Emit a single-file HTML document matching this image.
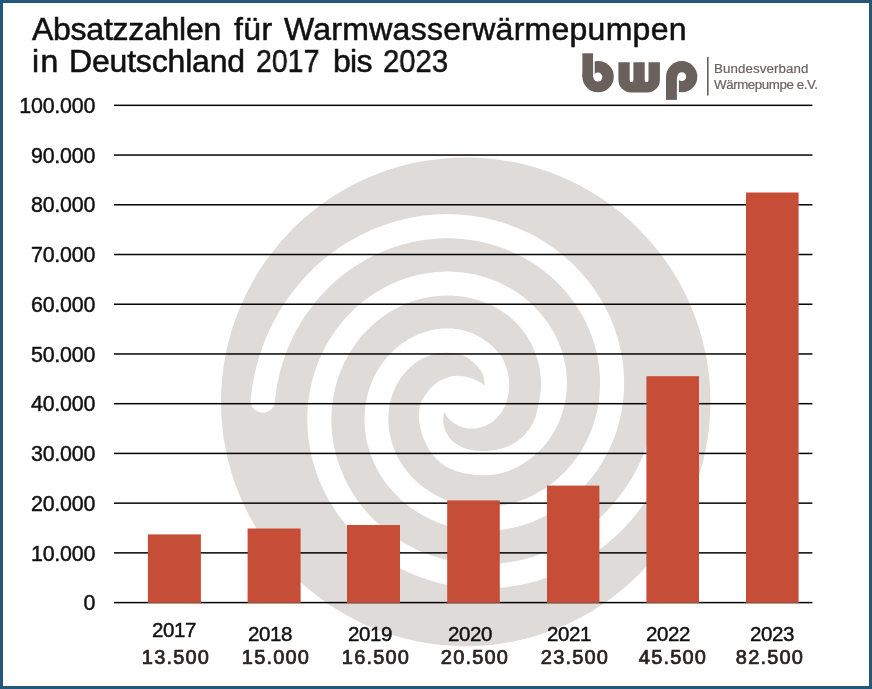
<!DOCTYPE html>
<html><head><meta charset="utf-8"><title>Absatzzahlen</title>
<style>
html,body{margin:0;padding:0;}
body{width:872px;height:689px;position:relative;overflow:hidden;background:#fff;font-family:"Liberation Sans",sans-serif;color:#111;}
.frame{position:absolute;left:0;top:0;width:866px;height:682.6px;border:3px solid #23587a;border-bottom-width:3.4px;z-index:5;}
.t{position:absolute;white-space:nowrap;line-height:1;will-change:transform;}
.title{font-size:32px;-webkit-text-stroke:0.55px #111;}
.yl{font-size:21.4px;text-align:right;width:95.2px;left:0;letter-spacing:-0.2px;-webkit-text-stroke:0.45px #111;}
.xl{font-size:20.5px;text-align:center;width:100px;letter-spacing:-0.4px;-webkit-text-stroke:0.45px #111;}
.xv{font-size:20px;text-align:center;width:100px;letter-spacing:1.2px;color:#2a2321;-webkit-text-stroke:0.7px #2a2321;}
.lg{font-size:13.3px;color:#6a625f;left:714.1px;-webkit-text-stroke:0.2px #6a625f;}
</style></head><body>
<svg width="872" height="689" viewBox="0 0 872 689" style="position:absolute;left:0;top:0">
<ellipse cx="465.7" cy="401.8" rx="244.7" ry="244.4" fill="#dedbd8"/>
<path d="M250.6 400.5 L250.9 397.6 L251.4 393.5 L251.9 389.3 L252.5 385.6 L253.1 381.9 L253.8 378.2 L254.5 374.6 L255.4 370.9 L256.2 367.3 L257.2 363.7 L258.2 360.1 L259.3 356.6 L260.4 353.1 L261.6 349.6 L262.8 346.1 L264.1 342.6 L265.5 339.2 L266.9 335.8 L268.4 332.5 L269.9 329.1 L271.5 325.8 L273.2 322.6 L274.9 319.4 L276.6 316.2 L278.4 313.0 L280.3 309.9 L282.2 306.8 L284.2 303.8 L286.2 300.8 L288.2 297.8 L290.3 294.9 L292.5 292.0 L294.7 289.2 L297.0 286.4 L299.3 283.6 L301.6 280.9 L304.0 278.3 L306.4 275.7 L308.9 273.1 L311.4 270.6 L313.9 268.1 L316.5 265.7 L319.2 263.3 L321.8 261.0 L324.5 258.8 L327.3 256.6 L330.0 254.4 L332.8 252.3 L335.7 250.2 L338.5 248.2 L341.4 246.3 L344.4 244.4 L347.3 242.5 L350.3 240.8 L353.3 239.0 L356.3 237.4 L359.4 235.7 L362.5 234.2 L365.6 232.7 L368.7 231.2 L371.8 229.8 L375.0 228.5 L378.2 227.2 L381.4 226.0 L384.6 224.9 L387.8 223.8 L391.1 222.7 L394.3 221.8 L397.6 220.8 L400.8 220.0 L404.1 219.2 L407.4 218.4 L410.7 217.8 L414.0 217.1 L417.3 216.6 L420.6 216.1 L424.0 215.6 L427.3 215.2 L430.6 214.9 L433.9 214.6 L437.2 214.4 L440.5 214.3 L443.8 214.2 L447.2 214.1 L450.5 214.2 L453.7 214.3 L457.0 214.4 L460.3 214.6 L463.6 214.9 L466.8 215.2 L470.1 215.5 L473.3 216.0 L476.5 216.4 L479.7 217.0 L482.9 217.6 L486.1 218.2 L489.3 218.9 L492.4 219.7 L495.5 220.5 L498.6 221.4 L501.7 222.3 L504.8 223.3 L507.8 224.3 L510.8 225.4 L513.8 226.5 L516.7 227.7 L519.7 228.9 L522.6 230.2 L525.4 231.5 L528.3 232.8 L531.1 234.3 L533.9 235.7 L536.7 237.2 L539.4 238.8 L542.1 240.4 L544.7 242.1 L547.4 243.7 L549.9 245.5 L552.5 247.3 L555.0 249.1 L557.5 250.9 L559.9 252.8 L562.3 254.8 L564.7 256.8 L567.0 258.8 L569.3 260.8 L571.6 262.9 L573.8 265.0 L575.9 267.2 L578.0 269.4 L580.1 271.6 L582.2 273.9 L584.1 276.2 L586.1 278.5 L588.0 280.8 L589.8 283.2 L591.6 285.6 L593.4 288.0 L595.1 290.5 L596.8 293.0 L598.4 295.5 L600.0 298.0 L601.5 300.6 L603.0 303.2 L604.4 305.8 L605.8 308.4 L607.1 311.0 L608.4 313.7 L609.7 316.3 L610.8 319.0 L612.0 321.7 L613.1 324.4 L614.1 327.2 L615.1 329.9 L616.0 332.7 L616.9 335.4 L617.7 338.2 L618.5 341.0 L619.2 343.8 L619.9 346.6 L620.5 349.4 L621.1 352.2 L621.6 355.0 L622.1 357.8 L622.5 360.7 L622.9 363.5 L623.2 366.3 L623.5 369.1 L623.7 372.0 L623.9 374.8 L624.0 377.6 L624.1 380.4 L624.1 383.2 L624.1 386.0 L624.0 388.8 L623.9 391.6 L623.7 394.4 L623.5 397.2 L623.2 399.9 L622.9 402.7 L622.5 405.4 L622.1 408.1 L621.6 410.9 L621.1 413.6 L620.6 416.2 L620.0 418.9 L619.3 421.6 L618.6 424.2 L617.9 426.8 L617.1 429.4 L616.3 432.0 L615.4 434.5 L614.5 437.1 L613.5 439.6 L612.5 442.1 L611.5 444.6 L610.4 447.0 L609.2 449.4 L608.1 451.8 L606.9 454.2 L605.6 456.5 L604.3 458.8 L603.0 461.1 L601.7 463.4 L600.3 465.6 L598.8 467.8 L597.4 470.0 L595.9 472.1 L594.3 474.2 L592.8 476.3 L591.2 478.3 L589.5 480.3 L587.8 482.3 L586.1 484.3 L584.4 486.2 L582.7 488.0 L580.9 489.9 L579.0 491.7 L577.2 493.4 L575.3 495.2 L573.4 496.9 L571.5 498.5 L569.6 500.1 L567.6 501.7 L565.6 503.2 L563.6 504.7 L561.5 506.2 L559.5 507.6 L557.4 509.0 L555.3 510.3 L553.2 511.6 L551.0 512.9 L548.9 514.1 L546.7 515.3 L544.5 516.4 L542.3 517.5 L540.1 518.5 L537.9 519.5 L535.6 520.5 L533.4 521.4 L531.1 522.3 L528.8 523.2 L526.6 524.0 L524.3 524.7 L522.0 525.4 L519.7 526.1 L517.4 526.7 L515.0 527.3 L512.7 527.8 L510.4 528.3 L508.1 528.8 L505.7 529.2 L503.4 529.6 L501.1 529.9 L498.7 530.2 L496.4 530.4 L494.1 530.6 L491.7 530.8 L489.4 530.9 L487.1 531.0 L484.8 531.0 L482.5 531.0 L480.2 531.0 L477.9 530.9 L475.6 530.8 L473.3 530.6 L471.0 530.4 L468.7 530.1 L466.5 529.9 L464.2 529.5 L462.0 529.2 L459.8 528.8 L457.6 528.3 L455.4 527.8 L453.2 527.3 L451.0 526.8 L448.9 526.2 L446.8 525.5 L444.6 524.9 L442.6 524.2 L440.5 523.4 L438.4 522.7 L436.4 521.8 L434.3 521.0 L432.3 520.1 L430.4 519.2 L428.4 518.3 L426.5 517.3 L424.6 516.3 L422.7 515.3 L420.8 514.2 L419.0 513.1 L417.1 512.0 L415.4 510.8 L413.6 509.6 L411.8 508.4 L410.1 507.2 L408.4 505.9 L406.8 504.6 L405.1 503.3 L403.5 501.9 L402.0 500.5 L400.4 499.2 L398.9 497.7 L397.4 496.3 L396.0 494.8 L394.5 493.3 L393.1 491.8 L391.8 490.3 L390.4 488.7 L389.1 487.2 L387.9 485.6 L386.6 484.0 L385.4 482.4 L384.2 480.7 L383.1 479.1 L382.0 477.4 L380.9 475.7 L379.9 474.0 L378.9 472.3 L377.9 470.6 L376.9 468.8 L376.0 467.1 L375.2 465.3 L374.3 463.5 L373.5 461.7 L372.8 460.0 L372.0 458.1 L371.3 456.3 L370.6 454.5 L370.0 452.7 L369.4 450.9 L368.9 449.0 L368.3 447.2 L367.8 445.4 L367.4 443.5 L366.9 441.7 L366.6 439.8 L366.2 438.0 L365.9 436.1 L365.6 434.3 L365.3 432.4 L365.1 430.6 L364.9 428.7 L364.8 426.9 L364.7 425.0 L364.6 423.2 L364.5 421.4 L364.5 419.5 L364.5 417.7 L364.6 415.9 L364.6 414.1 L364.8 412.3 L364.9 410.5 L365.1 408.7 L365.3 406.9 L365.5 405.2 L365.8 403.4 L366.1 401.6 L366.4 399.9 L366.8 398.2 L367.2 396.5 L367.6 394.8 L368.0 393.1 L368.5 391.4 L369.0 389.7 L369.6 388.1 L370.1 386.5 L370.7 384.9 L371.3 383.3 L372.0 381.7 L372.6 380.1 L373.3 378.6 L374.1 377.0 L374.8 375.5 L375.6 374.0 L376.4 372.6 L377.2 371.1 L378.0 369.7 L378.9 368.3 L379.8 366.9 L380.7 365.5 L381.6 364.2 L382.6 362.8 L383.6 361.5 L384.6 360.2 L385.6 359.0 L386.6 357.7 L387.7 356.5 L388.7 355.3 L389.8 354.2 L390.9 353.0 L392.1 351.9 L393.2 350.8 L394.4 349.7 L395.5 348.7 L396.7 347.7 L397.9 346.7 L399.1 345.7 L400.3 344.7 L401.6 343.8 L402.8 342.9 L404.1 342.1 L405.4 341.2 L406.7 340.4 L407.9 339.6 L409.2 338.9 L410.6 338.1 L411.9 337.4 L413.2 336.7 L414.5 336.1 L415.9 335.5 L417.2 334.9 L418.6 334.3 L419.9 333.7 L421.3 333.2 L422.7 332.7 L424.0 332.3 L425.4 331.8 L426.8 331.4 L428.2 331.0 L429.6 330.7 L430.9 330.3 L432.3 330.0 L433.7 329.7 L435.1 329.5 L436.5 329.3 L437.9 329.1 L439.2 328.9 L440.6 328.7 L442.0 328.6 L443.3 328.5 L444.7 328.5 L446.1 328.4 L447.4 328.4 L448.8 328.4 L450.1 328.5 L451.5 328.5 L452.8 328.6 L454.1 328.8 L455.4 328.9 L456.8 329.1 L458.1 329.3 L459.4 329.5 L460.6 329.8 L461.9 330.1 L463.2 330.4 L464.4 330.7 L465.6 331.0 L466.9 331.4 L468.1 331.8 L469.3 332.2 L470.5 332.7 L471.6 333.1 L472.8 333.6 L473.9 334.1 L475.0 334.6 L476.1 335.1 L477.2 335.7 L478.3 336.3 L479.4 336.9 L480.4 337.5 L481.4 338.1 L482.4 338.7 L483.4 339.3 L484.4 340.0 L485.4 340.7 L486.3 341.4 L487.2 342.1 L488.2 342.8 L489.0 343.5 L489.9 344.2 L490.8 345.0 L491.6 345.7 L492.3 346.3 L492.9 346.9 L494.0 348.0 L496.0 349.9 L498.4 352.4 L500.6 355.0 L502.2 357.6 L503.5 360.3 L504.7 363.1 L505.9 366.1 L506.9 369.1 L507.8 372.3 L508.4 375.6 L508.9 379.0 L509.1 382.4 L509.1 385.8 L509.0 389.3 L508.6 392.6 L508.1 395.9 L507.3 399.1 L506.5 402.0 L505.6 404.5 L504.6 406.8 L503.2 409.3 L501.3 412.4 L498.9 415.6 L496.3 418.6 L493.4 421.1 L490.2 423.2 L487.0 425.0 L484.0 426.3 L481.1 427.3 L478.0 428.0 L474.7 428.4 L471.3 428.6 L468.1 428.4 L465.2 427.9 L462.5 427.2 L459.9 426.2 L457.4 425.1 L455.0 423.8 L452.8 422.3 L450.9 420.7 L449.2 419.0 L447.7 417.2 L446.3 415.2 L445.2 413.1 L444.4 411.6 L444.4 411.6 L444.0 413.3 L443.5 415.6 L443.2 418.2 L443.2 420.8 L443.4 423.6 L443.9 426.3 L444.6 428.7 L445.5 431.1 L446.7 433.4 L448.2 435.9 L449.9 438.4 L451.8 440.6 L453.9 442.5 L456.3 444.1 L458.9 445.6 L461.7 447.0 L464.8 448.2 L468.1 449.2 L471.7 450.1 L475.6 450.8 L480.0 451.1 L485.2 451.0 L491.0 450.5 L496.3 449.7 L500.9 448.7 L505.1 447.4 L509.0 445.9 L512.8 444.0 L516.3 441.9 L519.5 439.5 L522.5 436.9 L525.2 434.2 L527.6 431.3 L529.8 428.4 L531.7 425.3 L533.4 422.1 L534.8 418.6 L536.0 415.0 L536.9 411.6 L537.6 408.8 L538.1 406.4 L538.6 403.5 L539.3 399.9 L540.0 395.9 L540.6 392.0 L540.9 388.4 L541.0 384.8 L540.9 381.0 L540.6 376.6 L540.1 372.0 L539.7 368.4 L539.3 366.3 L539.0 365.2 L538.7 364.1 L538.3 362.6 L538.0 361.2 L537.5 359.7 L537.1 358.3 L536.6 356.9 L536.2 355.4 L535.6 354.0 L535.1 352.5 L534.5 351.1 L533.9 349.7 L533.3 348.2 L532.7 346.8 L532.0 345.4 L531.3 344.0 L530.6 342.6 L529.8 341.2 L529.0 339.8 L528.2 338.4 L527.4 337.0 L526.5 335.7 L525.6 334.3 L524.6 333.0 L523.7 331.7 L522.7 330.3 L521.7 329.0 L520.6 327.8 L519.5 326.5 L518.4 325.2 L517.3 324.0 L516.1 322.8 L514.9 321.6 L513.7 320.4 L512.5 319.3 L511.2 318.2 L509.9 317.0 L508.6 316.0 L507.2 314.9 L505.8 313.9 L504.4 312.9 L503.0 311.9 L501.5 310.9 L500.0 310.0 L498.5 309.1 L497.0 308.3 L495.5 307.4 L493.9 306.6 L492.3 305.8 L490.7 305.0 L489.1 304.3 L487.5 303.6 L485.8 302.9 L484.1 302.2 L482.4 301.6 L480.7 301.0 L479.0 300.4 L477.3 299.9 L475.5 299.4 L473.7 298.9 L472.0 298.5 L470.2 298.0 L468.3 297.7 L466.5 297.3 L464.7 297.0 L462.8 296.7 L461.0 296.4 L459.1 296.2 L457.3 296.0 L455.4 295.9 L453.5 295.7 L451.6 295.6 L449.7 295.6 L447.8 295.6 L445.8 295.6 L443.9 295.6 L442.0 295.7 L440.1 295.8 L438.1 296.0 L436.2 296.2 L434.3 296.4 L432.3 296.7 L430.4 297.0 L428.4 297.3 L426.5 297.7 L424.6 298.1 L422.6 298.5 L420.7 299.0 L418.8 299.5 L416.8 300.1 L414.9 300.6 L413.0 301.3 L411.1 301.9 L409.2 302.6 L407.3 303.3 L405.4 304.1 L403.5 304.9 L401.7 305.8 L399.8 306.6 L398.0 307.5 L396.1 308.5 L394.3 309.5 L392.5 310.5 L390.7 311.6 L388.9 312.6 L387.2 313.8 L385.4 314.9 L383.7 316.1 L382.0 317.3 L380.3 318.6 L378.6 319.9 L376.9 321.2 L375.3 322.6 L373.7 324.0 L372.1 325.4 L370.5 326.9 L368.9 328.4 L367.4 329.9 L365.9 331.4 L364.4 333.0 L363.0 334.6 L361.5 336.3 L360.1 338.0 L358.7 339.7 L357.4 341.4 L356.1 343.2 L354.8 345.0 L353.5 346.8 L352.3 348.6 L351.1 350.5 L349.9 352.4 L348.8 354.3 L347.6 356.3 L346.6 358.3 L345.5 360.3 L344.5 362.3 L343.5 364.3 L342.6 366.4 L341.7 368.5 L340.8 370.6 L340.0 372.7 L339.2 374.9 L338.4 377.0 L337.7 379.2 L337.0 381.4 L336.3 383.7 L335.7 385.9 L335.2 388.2 L334.6 390.4 L334.1 392.7 L333.7 395.0 L333.3 397.3 L332.9 399.7 L332.6 402.0 L332.3 404.4 L332.0 406.7 L331.8 409.1 L331.6 411.5 L331.5 413.9 L331.4 416.3 L331.4 418.7 L331.4 421.1 L331.5 423.5 L331.5 425.9 L331.7 428.3 L331.9 430.7 L332.1 433.2 L332.4 435.6 L332.7 438.0 L333.0 440.4 L333.4 442.9 L333.9 445.3 L334.4 447.7 L334.9 450.1 L335.5 452.5 L336.1 455.0 L336.8 457.4 L337.5 459.7 L338.2 462.1 L339.0 464.5 L339.9 466.9 L340.8 469.2 L341.7 471.6 L342.7 473.9 L343.7 476.3 L344.8 478.6 L345.9 480.9 L347.0 483.1 L348.2 485.4 L349.5 487.6 L350.7 489.9 L352.1 492.1 L353.4 494.3 L354.8 496.5 L356.3 498.6 L357.8 500.7 L359.3 502.8 L360.9 504.9 L362.5 507.0 L364.2 509.0 L365.8 511.0 L367.6 513.0 L369.3 515.0 L371.2 516.9 L373.0 518.8 L374.9 520.7 L376.8 522.5 L378.8 524.3 L380.8 526.1 L382.8 527.8 L384.9 529.6 L387.0 531.2 L389.1 532.9 L391.3 534.5 L393.5 536.1 L395.7 537.6 L398.0 539.1 L400.3 540.6 L402.6 542.0 L405.0 543.4 L407.4 544.7 L409.8 546.0 L412.2 547.3 L414.7 548.5 L417.2 549.7 L419.7 550.9 L422.3 551.9 L424.8 553.0 L427.4 554.0 L430.1 555.0 L432.7 555.9 L435.4 556.8 L438.0 557.6 L440.8 558.4 L443.5 559.1 L446.2 559.8 L449.0 560.4 L451.8 561.0 L454.5 561.6 L457.3 562.1 L460.2 562.5 L463.0 562.9 L465.8 563.3 L468.7 563.6 L471.6 563.8 L474.4 564.0 L477.3 564.1 L480.2 564.2 L483.1 564.3 L486.0 564.3 L488.9 564.2 L491.9 564.1 L494.8 563.9 L497.7 563.7 L500.6 563.4 L503.5 563.1 L506.5 562.7 L509.4 562.3 L512.3 561.8 L515.2 561.3 L518.1 560.7 L521.0 560.1 L523.9 559.4 L526.8 558.6 L529.7 557.8 L532.6 557.0 L535.4 556.1 L538.3 555.1 L541.1 554.1 L543.9 553.0 L546.8 551.9 L549.5 550.7 L552.3 549.5 L555.1 548.3 L557.8 546.9 L560.6 545.6 L563.3 544.1 L566.0 542.7 L568.6 541.1 L571.3 539.6 L573.9 537.9 L576.5 536.3 L579.0 534.5 L581.6 532.8 L584.1 530.9 L586.6 529.1 L589.0 527.2 L591.5 525.2 L593.9 523.2 L596.2 521.1 L598.6 519.0 L600.9 516.9 L603.1 514.7 L605.3 512.5 L607.5 510.2 L609.7 507.9 L611.8 505.5 L613.9 503.1 L615.9 500.6 L617.9 498.2 L619.9 495.6 L621.8 493.1 L623.7 490.5 L625.5 487.8 L627.3 485.2 L629.0 482.4 L630.7 479.7 L632.4 476.9 L634.0 474.1 L635.5 471.2 L637.0 468.4 L638.5 465.4 L639.9 462.5 L641.3 459.5 L642.6 456.5 L643.8 453.5 L645.0 450.4 L646.2 447.4 L647.3 444.3 L648.3 441.1 L649.3 438.0 L650.2 434.8 L651.1 431.6 L651.9 428.4 L652.7 425.1 L653.4 421.9 L654.1 418.6 L654.7 415.3 L655.2 412.0 L655.7 408.4 L656.1 404.8 L656.5 402.0 L656.7 400.4 L656.7 399.6 L656.9 398.9 L657.2 397.9 L657.6 396.9 L658.1 395.9 L658.7 395.0 L659.3 394.2 L660.0 393.4 L660.8 392.7 L661.7 392.1 L662.6 391.5 L663.5 391.0 L664.5 390.6 L665.5 390.3 L666.5 390.0 L667.6 389.9 L668.6 389.9 L669.7 389.9 L670.7 390.0 L671.8 390.3 L672.8 390.6 L673.8 391.0 L674.7 391.5 L675.6 392.1 L676.4 392.7 L677.2 393.4 L677.9 394.2 L678.6 395.0 L679.2 395.9 L679.6 396.9 L680.1 397.9 L680.4 398.9 L680.6 399.6 L680.8 400.4 L680.8 402.1 L680.5 405.2 L680.0 409.2 L679.5 413.3 L678.9 417.0 L678.3 420.7 L677.6 424.4 L676.8 428.0 L676.0 431.7 L675.2 435.3 L674.2 438.9 L673.2 442.5 L672.1 446.0 L671.0 449.5 L669.8 453.1 L668.6 456.5 L667.3 460.0 L665.9 463.4 L664.5 466.8 L663.0 470.1 L661.5 473.5 L659.9 476.8 L658.2 480.0 L656.5 483.3 L654.8 486.5 L653.0 489.6 L651.1 492.7 L649.2 495.8 L647.2 498.8 L645.2 501.8 L643.2 504.8 L641.0 507.7 L638.9 510.6 L636.7 513.4 L634.4 516.2 L632.1 519.0 L629.8 521.7 L627.4 524.3 L625.0 526.9 L622.5 529.5 L620.0 532.0 L617.4 534.5 L614.8 536.9 L612.2 539.3 L609.5 541.6 L606.8 543.9 L604.1 546.1 L601.3 548.2 L598.5 550.3 L595.7 552.4 L592.8 554.4 L589.9 556.3 L587.0 558.2 L584.1 560.1 L581.1 561.9 L578.1 563.6 L575.0 565.3 L572.0 566.9 L568.9 568.4 L565.8 569.9 L562.7 571.4 L559.5 572.8 L556.4 574.1 L553.2 575.4 L550.0 576.6 L546.8 577.7 L543.5 578.8 L540.3 579.9 L537.1 580.9 L533.8 581.8 L530.5 582.6 L527.2 583.4 L523.9 584.2 L520.6 584.9 L517.3 585.5 L514.0 586.0 L510.7 586.5 L507.4 587.0 L504.1 587.4 L500.8 587.7 L497.4 588.0 L494.1 588.2 L490.8 588.3 L487.5 588.4 L484.2 588.5 L480.9 588.4 L477.6 588.3 L474.3 588.2 L471.0 588.0 L467.8 587.7 L464.5 587.4 L461.3 587.1 L458.0 586.6 L454.8 586.1 L451.6 585.6 L448.4 585.0 L445.2 584.4 L442.1 583.7 L438.9 582.9 L435.8 582.1 L432.7 581.2 L429.6 580.3 L426.6 579.3 L423.6 578.3 L420.5 577.2 L417.6 576.1 L414.6 574.9 L411.7 573.7 L408.8 572.4 L405.9 571.1 L403.0 569.7 L400.2 568.3 L397.4 566.8 L394.7 565.3 L392.0 563.8 L389.3 562.2 L386.6 560.5 L384.0 558.8 L381.4 557.1 L378.8 555.3 L376.3 553.5 L373.9 551.6 L371.4 549.7 L369.0 547.8 L366.6 545.8 L364.3 543.8 L362.0 541.7 L359.8 539.6 L357.6 537.5 L355.4 535.4 L353.3 533.2 L351.2 530.9 L349.2 528.7 L347.2 526.4 L345.3 524.1 L343.4 521.7 L341.5 519.3 L339.7 516.9 L337.9 514.5 L336.2 512.0 L334.6 509.6 L332.9 507.0 L331.4 504.5 L329.8 502.0 L328.4 499.4 L326.9 496.8 L325.6 494.2 L324.2 491.5 L322.9 488.9 L321.7 486.2 L320.5 483.5 L319.4 480.8 L318.3 478.1 L317.3 475.3 L316.3 472.6 L315.4 469.8 L314.5 467.1 L313.7 464.3 L312.9 461.5 L312.2 458.7 L311.5 455.9 L310.8 453.1 L310.3 450.3 L309.7 447.5 L309.3 444.7 L308.9 441.8 L308.5 439.0 L308.2 436.2 L307.9 433.4 L307.7 430.5 L307.5 427.7 L307.4 424.9 L307.3 422.1 L307.3 419.3 L307.3 416.5 L307.4 413.7 L307.5 410.9 L307.7 408.1 L307.9 405.3 L308.2 402.6 L308.5 399.8 L308.9 397.1 L309.3 394.4 L309.8 391.7 L310.3 389.0 L310.9 386.3 L311.5 383.6 L312.1 380.9 L312.8 378.3 L313.6 375.7 L314.3 373.1 L315.2 370.5 L316.1 368.0 L317.0 365.4 L317.9 362.9 L318.9 360.4 L320.0 358.0 L321.1 355.5 L322.2 353.1 L323.4 350.7 L324.6 348.3 L325.8 346.0 L327.1 343.7 L328.4 341.4 L329.8 339.1 L331.2 336.9 L332.6 334.7 L334.1 332.5 L335.6 330.4 L337.1 328.3 L338.7 326.2 L340.3 324.2 L342.0 322.2 L343.6 320.2 L345.3 318.3 L347.1 316.4 L348.8 314.5 L350.6 312.7 L352.4 310.9 L354.3 309.1 L356.1 307.4 L358.0 305.7 L360.0 304.0 L361.9 302.4 L363.9 300.8 L365.9 299.3 L367.9 297.8 L370.0 296.4 L372.0 294.9 L374.1 293.6 L376.2 292.2 L378.3 290.9 L380.5 289.7 L382.6 288.5 L384.8 287.3 L387.0 286.2 L389.2 285.1 L391.4 284.0 L393.6 283.0 L395.9 282.0 L398.1 281.1 L400.4 280.2 L402.7 279.4 L404.9 278.6 L407.2 277.9 L409.5 277.1 L411.8 276.5 L414.2 275.9 L416.5 275.3 L418.8 274.7 L421.1 274.2 L423.4 273.8 L425.8 273.4 L428.1 273.0 L430.4 272.7 L432.8 272.4 L435.1 272.1 L437.4 271.9 L439.8 271.8 L442.1 271.7 L444.4 271.6 L446.7 271.6 L449.1 271.6 L451.4 271.6 L453.7 271.7 L456.0 271.8 L458.2 272.0 L460.5 272.2 L462.8 272.5 L465.0 272.8 L467.3 273.1 L469.5 273.5 L471.7 273.9 L473.9 274.3 L476.1 274.8 L478.3 275.3 L480.5 275.9 L482.6 276.5 L484.7 277.1 L486.9 277.8 L489.0 278.5 L491.0 279.2 L493.1 280.0 L495.1 280.8 L497.2 281.6 L499.2 282.5 L501.1 283.4 L503.1 284.4 L505.0 285.4 L506.9 286.4 L508.8 287.4 L510.7 288.5 L512.5 289.6 L514.4 290.7 L516.1 291.9 L517.9 293.1 L519.7 294.3 L521.4 295.5 L523.1 296.8 L524.7 298.1 L526.3 299.4 L527.9 300.8 L529.5 302.1 L531.1 303.5 L532.6 305.0 L534.1 306.4 L535.5 307.9 L536.9 309.4 L538.3 310.9 L539.7 312.4 L541.0 313.9 L542.3 315.5 L543.6 317.1 L544.9 318.7 L546.1 320.3 L547.2 322.0 L548.4 323.6 L549.5 325.3 L550.5 327.0 L551.6 328.7 L552.6 330.4 L553.6 332.1 L554.5 333.9 L555.4 335.6 L556.3 337.4 L557.1 339.2 L557.9 341.0 L558.7 342.8 L559.4 344.6 L560.1 346.4 L560.8 348.2 L561.4 350.0 L562.0 351.8 L562.6 353.7 L563.1 355.5 L563.6 357.4 L564.1 359.2 L564.5 361.0 L564.9 362.9 L565.2 364.7 L565.5 366.6 L565.8 368.4 L566.1 370.3 L566.3 372.1 L566.5 374.0 L566.6 375.8 L566.8 377.7 L566.8 379.5 L566.9 381.4 L566.9 383.2 L566.9 385.0 L566.8 386.8 L566.8 388.6 L566.6 390.4 L566.5 392.2 L566.3 394.0 L566.1 395.8 L565.9 397.6 L565.6 399.3 L565.3 401.1 L565.0 402.8 L564.6 404.5 L564.2 406.2 L563.8 407.9 L563.3 409.6 L562.8 411.3 L562.3 413.0 L561.8 414.6 L561.2 416.2 L560.6 417.8 L560.0 419.4 L559.4 421.0 L558.7 422.6 L558.0 424.1 L557.3 425.7 L556.5 427.2 L555.8 428.7 L555.0 430.1 L554.1 431.6 L553.3 433.0 L552.4 434.4 L551.5 435.8 L550.6 437.2 L549.7 438.5 L548.7 439.9 L547.8 441.2 L546.8 442.5 L545.8 443.7 L544.7 445.0 L543.7 446.2 L542.6 447.4 L541.5 448.6 L540.5 449.7 L539.3 450.9 L538.2 452.0 L537.1 453.0 L535.9 454.1 L534.8 455.2 L533.6 456.2 L532.4 457.2 L531.2 458.1 L530.0 459.1 L528.8 460.0 L527.5 460.9 L526.3 461.8 L525.0 462.6 L523.7 463.4 L522.4 464.2 L521.1 465.0 L519.8 465.7 L518.5 466.4 L517.2 467.1 L515.9 467.8 L514.5 468.4 L513.2 469.0 L511.8 469.6 L510.5 470.2 L509.1 470.7 L507.7 471.2 L506.3 471.7 L505.0 472.1 L503.6 472.5 L502.2 472.9 L500.8 473.2 L499.4 473.6 L498.0 473.9 L496.6 474.1 L495.5 474.4 L494.4 474.6 L492.4 474.8 L488.8 475.0 L484.3 475.3 L480.0 475.3 L476.4 475.0 L473.2 474.6 L470.0 474.1 L467.0 473.7 L464.2 473.3 L461.0 472.6 L457.1 471.4 L452.8 469.8 L448.8 468.0 L445.5 466.2 L442.5 464.2 L439.6 461.9 L436.7 459.2 L433.9 456.2 L431.5 453.2 L429.5 450.3 L427.9 447.5 L426.4 444.6 L424.9 441.6 L423.6 438.6 L422.4 435.5 L421.4 432.2 L420.5 428.7 L419.8 425.3 L419.3 422.0 L418.9 418.7 L418.9 415.2 L419.2 411.3 L419.7 407.3 L420.6 403.6 L421.8 400.6 L423.3 398.1 L424.9 395.6 L426.6 393.2 L428.4 390.8 L430.5 388.5 L433.0 386.0 L435.7 383.5 L438.6 381.4 L441.6 379.7 L444.6 378.4 L447.7 377.4 L450.8 376.6 L453.8 376.1 L456.9 375.8 L460.0 375.9 L463.2 376.3 L466.1 376.8 L468.7 377.4 L471.0 378.1 L473.2 378.9 L475.3 379.8 L477.4 380.8 L479.3 381.9 L481.4 383.1 L483.3 384.4 L484.7 385.3 L484.7 385.3 L484.4 382.9 L484.1 379.5 L483.4 376.3 L482.5 373.8 L481.3 371.5 L479.8 369.2 L477.9 366.8 L475.7 364.4 L473.2 362.1 L470.4 359.8 L467.4 357.7 L464.6 356.0 L461.9 354.9 L459.4 354.2 L457.3 353.8 L456.1 353.5 L455.4 353.4 L454.6 353.3 L453.7 353.2 L452.8 353.1 L451.8 353.0 L450.9 352.9 L449.9 352.9 L449.0 352.8 L448.0 352.8 L447.0 352.8 L446.0 352.8 L445.1 352.8 L444.1 352.8 L443.1 352.9 L442.1 353.0 L441.1 353.1 L440.0 353.2 L439.0 353.3 L438.0 353.5 L437.0 353.7 L436.0 353.9 L434.9 354.1 L433.9 354.3 L432.9 354.6 L431.8 354.9 L430.8 355.2 L429.8 355.5 L428.8 355.9 L427.7 356.3 L426.7 356.7 L425.7 357.1 L424.7 357.5 L423.7 358.0 L422.7 358.5 L421.7 359.0 L420.7 359.6 L419.7 360.1 L418.7 360.7 L417.8 361.3 L416.8 362.0 L415.9 362.6 L414.9 363.3 L414.0 364.0 L413.1 364.7 L412.2 365.5 L411.3 366.2 L410.4 367.0 L409.6 367.8 L408.7 368.7 L407.9 369.5 L407.0 370.4 L406.2 371.3 L405.4 372.2 L404.6 373.1 L403.8 374.0 L403.1 375.0 L402.3 376.0 L401.6 377.0 L400.8 378.0 L400.1 379.0 L399.5 380.1 L398.8 381.2 L398.1 382.3 L397.5 383.4 L396.9 384.5 L396.3 385.6 L395.7 386.8 L395.1 387.9 L394.6 389.1 L394.1 390.3 L393.6 391.5 L393.1 392.8 L392.6 394.0 L392.2 395.3 L391.8 396.5 L391.4 397.8 L391.0 399.1 L390.7 400.4 L390.3 401.7 L390.0 403.1 L389.8 404.4 L389.5 405.7 L389.3 407.1 L389.1 408.5 L388.9 409.9 L388.7 411.2 L388.6 412.6 L388.5 414.0 L388.4 415.4 L388.3 416.9 L388.3 418.3 L388.3 419.7 L388.3 421.1 L388.4 422.6 L388.5 424.0 L388.6 425.5 L388.7 426.9 L388.8 428.4 L389.0 429.8 L389.2 431.3 L389.5 432.7 L389.7 434.2 L390.0 435.7 L390.4 437.1 L390.7 438.6 L391.1 440.0 L391.5 441.5 L391.9 442.9 L392.4 444.4 L392.9 445.8 L393.4 447.3 L394.0 448.7 L394.5 450.2 L395.1 451.6 L395.8 453.0 L396.4 454.4 L397.1 455.8 L397.8 457.2 L398.6 458.6 L399.4 460.0 L400.2 461.4 L401.0 462.7 L401.8 464.1 L402.7 465.4 L403.6 466.7 L404.6 468.1 L405.5 469.4 L406.5 470.6 L407.6 471.9 L408.6 473.2 L409.7 474.4 L410.8 475.7 L411.9 476.9 L413.0 478.1 L414.2 479.2 L415.4 480.4 L416.6 481.6 L417.9 482.7 L419.2 483.8 L420.5 484.9 L421.8 485.9 L423.1 487.0 L424.5 488.0 L425.9 489.0 L427.3 490.0 L428.8 490.9 L430.2 491.9 L431.7 492.8 L433.2 493.7 L434.7 494.5 L436.3 495.4 L437.8 496.2 L439.4 497.0 L441.0 497.7 L442.6 498.5 L444.3 499.2 L445.9 499.8 L447.6 500.5 L449.3 501.1 L451.0 501.7 L452.7 502.3 L454.4 502.8 L456.2 503.3 L458.0 503.8 L459.7 504.2 L461.5 504.6 L463.3 505.0 L465.1 505.4 L467.0 505.7 L468.8 506.0 L470.7 506.2 L472.5 506.4 L474.4 506.6 L476.3 506.8 L478.1 506.9 L480.0 507.0 L481.9 507.0 L483.8 507.0 L485.8 507.0 L487.7 507.0 L489.6 506.9 L491.5 506.8 L493.4 506.6 L495.4 506.4 L497.3 506.2 L499.2 505.9 L501.2 505.6 L503.1 505.3 L505.0 504.9 L506.9 504.5 L508.9 504.1 L510.8 503.6 L512.7 503.1 L514.6 502.5 L516.5 501.9 L518.5 501.3 L520.4 500.7 L522.2 500.0 L524.1 499.2 L526.0 498.5 L527.9 497.7 L529.7 496.8 L531.6 496.0 L533.4 495.1 L535.3 494.1 L537.1 493.1 L538.9 492.1 L540.7 491.1 L542.4 490.0 L544.2 488.9 L545.9 487.7 L547.7 486.5 L549.4 485.3 L551.1 484.1 L552.7 482.8 L554.4 481.4 L556.0 480.1 L557.6 478.7 L559.2 477.3 L560.8 475.8 L562.3 474.4 L563.9 472.8 L565.4 471.3 L566.8 469.7 L568.3 468.1 L569.7 466.5 L571.1 464.8 L572.5 463.1 L573.9 461.4 L575.2 459.6 L576.5 457.9 L577.7 456.0 L579.0 454.2 L580.2 452.3 L581.3 450.5 L582.5 448.5 L583.6 446.6 L584.7 444.6 L585.7 442.7 L586.7 440.6 L587.7 438.6 L588.7 436.6 L589.6 434.5 L590.4 432.4 L591.3 430.3 L592.1 428.1 L592.9 426.0 L593.6 423.8 L594.3 421.6 L594.9 419.4 L595.5 417.2 L596.1 414.9 L596.7 412.7 L597.2 410.4 L597.6 408.1 L598.0 405.8 L598.4 403.5 L598.8 401.2 L599.1 398.8 L599.3 396.5 L599.5 394.1 L599.7 391.7 L599.9 389.4 L599.9 387.0 L600.0 384.6 L600.0 382.2 L600.0 379.8 L599.9 377.4 L599.8 375.0 L599.6 372.6 L599.4 370.1 L599.1 367.7 L598.8 365.3 L598.5 362.9 L598.1 360.5 L597.7 358.1 L597.2 355.7 L596.7 353.2 L596.1 350.8 L595.5 348.4 L594.9 346.0 L594.2 343.7 L593.4 341.3 L592.7 338.9 L591.8 336.5 L591.0 334.2 L590.0 331.9 L589.1 329.5 L588.1 327.2 L587.0 324.9 L586.0 322.6 L584.8 320.3 L583.6 318.1 L582.4 315.8 L581.2 313.6 L579.9 311.4 L578.5 309.2 L577.1 307.0 L575.7 304.9 L574.2 302.7 L572.7 300.6 L571.2 298.6 L569.6 296.5 L568.0 294.5 L566.3 292.4 L564.6 290.5 L562.8 288.5 L561.1 286.6 L559.2 284.7 L557.4 282.8 L555.5 280.9 L553.5 279.1 L551.6 277.3 L549.6 275.6 L547.5 273.9 L545.4 272.2 L543.3 270.5 L541.2 268.9 L539.0 267.3 L536.8 265.8 L534.6 264.2 L532.3 262.8 L530.0 261.3 L527.7 259.9 L525.3 258.6 L522.9 257.2 L520.5 256.0 L518.0 254.7 L515.6 253.5 L513.1 252.4 L510.5 251.2 L508.0 250.2 L505.4 249.1 L502.8 248.2 L500.2 247.2 L497.6 246.3 L494.9 245.5 L492.2 244.7 L489.5 243.9 L486.8 243.2 L484.1 242.5 L481.3 241.9 L478.5 241.3 L475.7 240.8 L472.9 240.3 L470.1 239.9 L467.3 239.5 L464.5 239.2 L461.6 238.9 L458.8 238.7 L455.9 238.5 L453.0 238.4 L450.1 238.3 L447.2 238.3 L444.4 238.3 L441.5 238.4 L438.6 238.6 L435.6 238.7 L432.7 239.0 L429.8 239.3 L426.9 239.6 L424.0 240.0 L421.1 240.4 L418.2 240.9 L415.3 241.5 L412.4 242.1 L409.5 242.7 L406.6 243.5 L403.8 244.2 L400.9 245.0 L398.0 245.9 L395.2 246.8 L392.3 247.8 L389.5 248.8 L386.7 249.9 L383.9 251.0 L381.1 252.2 L378.4 253.4 L375.6 254.7 L372.9 256.0 L370.2 257.4 L367.5 258.8 L364.8 260.3 L362.2 261.8 L359.6 263.4 L357.0 265.0 L354.4 266.7 L351.8 268.4 L349.3 270.2 L346.8 272.0 L344.3 273.9 L341.9 275.8 L339.5 277.8 L337.1 279.8 L334.8 281.8 L332.4 283.9 L330.2 286.1 L327.9 288.3 L325.7 290.5 L323.5 292.8 L321.4 295.1 L319.3 297.5 L317.2 299.9 L315.2 302.3 L313.2 304.8 L311.3 307.3 L309.4 309.9 L307.5 312.5 L305.7 315.1 L303.9 317.8 L302.2 320.5 L300.5 323.2 L298.9 326.0 L297.3 328.8 L295.7 331.6 L294.2 334.5 L292.8 337.4 L291.4 340.3 L290.0 343.3 L288.7 346.3 L287.5 349.3 L286.3 352.4 L285.2 355.4 L284.1 358.5 L283.0 361.6 L282.1 364.8 L281.1 368.0 L280.3 371.1 L279.4 374.3 L278.7 377.6 L278.0 380.8 L277.3 384.1 L276.7 387.4 L276.2 390.7 L275.7 394.2 L275.3 397.8 L274.9 400.6 L274.7 402.2 L274.7 403.0 L274.5 403.7 L274.2 404.7 L273.8 405.7 L273.3 406.7 L272.7 407.6 L272.1 408.4 L271.4 409.2 L270.6 409.9 L269.7 410.5 L268.8 411.1 L267.9 411.6 L266.9 412.0 L265.9 412.3 L264.9 412.6 L263.8 412.7 L262.8 412.7 L261.7 412.7 L260.7 412.6 L259.6 412.3 L258.6 412.0 L257.6 411.6 L256.7 411.1 L255.8 410.5 L255.0 409.9 L254.2 409.2 L253.5 408.4 L252.8 407.6 L252.2 406.7 L251.8 405.7 L251.3 404.7 L251.0 403.7 L250.8 402.6 L250.7 401.4 L250.6 400.6Z" fill="#ffffff"/>
<rect x="114" y="601.85" width="698.4" height="1.5" fill="#050505"/>
<rect x="114" y="552.12" width="698.4" height="1.5" fill="#050505"/>
<rect x="114" y="502.40" width="698.4" height="1.5" fill="#050505"/>
<rect x="114" y="452.67" width="698.4" height="1.5" fill="#050505"/>
<rect x="114" y="402.94" width="698.4" height="1.5" fill="#050505"/>
<rect x="114" y="353.21" width="698.4" height="1.5" fill="#050505"/>
<rect x="114" y="303.49" width="698.4" height="1.5" fill="#050505"/>
<rect x="114" y="253.76" width="698.4" height="1.5" fill="#050505"/>
<rect x="114" y="204.03" width="698.4" height="1.5" fill="#050505"/>
<rect x="114" y="154.31" width="698.4" height="1.5" fill="#050505"/>
<rect x="114" y="104.58" width="698.4" height="1.5" fill="#050505"/>
<rect x="147.9" y="534.4" width="53.0" height="68.5" fill="#c64e36"/>
<rect x="247.6" y="528.5" width="53.0" height="74.4" fill="#c64e36"/>
<rect x="347.0" y="525.0" width="53.0" height="77.9" fill="#c64e36"/>
<rect x="447.2" y="500.4" width="52.6" height="102.5" fill="#c64e36"/>
<rect x="547.0" y="485.6" width="52.4" height="117.3" fill="#c64e36"/>
<rect x="646.4" y="376.2" width="52.6" height="226.7" fill="#c64e36"/>
<rect x="746.0" y="192.5" width="52.6" height="410.4" fill="#c64e36"/>
<g fill="#6a605c">
<circle cx="598.1" cy="76.6" r="15.7"/><rect x="582.4" y="53.3" width="10.7" height="24"/>
<path d="M618.4 62.2 h11.3 v18 a1.85 1.85 0 0 0 3.7 0 v-18 h11.3 v18 a1.9 1.9 0 0 0 3.8 0 v-18 h11.4 v17.8 a12.5 12.5 0 0 1 -12.5 12.5 h-16.5 a12.5 12.5 0 0 1 -12.5 -12.5 z"/>
<circle cx="681.7" cy="76.7" r="15.6"/><rect x="666.0" y="76" width="10.9" height="23.9"/>
<rect x="707" y="57" width="1.6" height="38.5"/>
</g>
<g fill="#ffffff">
<circle cx="597.9" cy="77.1" r="4.5"/><rect x="593.1" y="58" width="1.6" height="19"/>
<circle cx="681.8" cy="76.6" r="4.4"/><rect x="676.9" y="77" width="2.0" height="17"/>
</g>
</svg>
<div class="t title" style="left:32.10px;top:13.2px;letter-spacing:-0.26px;">Absatzzahlen</div>
<div class="t title" style="left:234.40px;top:13.2px;letter-spacing:0.45px;">für</div>
<div class="t title" style="left:283.50px;top:13.2px;letter-spacing:0.27px;">Warmwasserwärmepumpen</div>
<div class="t title" style="left:31.70px;top:45.0px;letter-spacing:1.40px;">in</div>
<div class="t title" style="left:69.20px;top:45.0px;letter-spacing:-0.18px;">Deutschland</div>
<div class="t title" style="left:256.30px;top:45.0px;letter-spacing:0.00px;transform:scaleX(0.891);transform-origin:0 0;">2017</div>
<div class="t title" style="left:332.60px;top:45.0px;letter-spacing:-0.70px;">bis</div>
<div class="t title" style="left:382.90px;top:45.0px;letter-spacing:0.00px;transform:scaleX(0.914);transform-origin:0 0;">2023</div>
<div class="t yl" style="top:593.2px">0</div>
<div class="t yl" style="top:543.5px">10.000</div>
<div class="t yl" style="top:493.8px">20.000</div>
<div class="t yl" style="top:444.1px">30.000</div>
<div class="t yl" style="top:394.3px">40.000</div>
<div class="t yl" style="top:344.6px">50.000</div>
<div class="t yl" style="top:294.9px">60.000</div>
<div class="t yl" style="top:245.2px">70.000</div>
<div class="t yl" style="top:195.4px">80.000</div>
<div class="t yl" style="top:145.7px">90.000</div>
<div class="t yl" style="top:96.0px">100.000</div>
<div class="t xl" style="left:123.8px;top:620.4px">2017</div>
<div class="t xv" style="left:126.1px;top:647.0px">13.500</div>
<div class="t xl" style="left:220.4px;top:623.5px">2018</div>
<div class="t xv" style="left:225.7px;top:647.0px">15.000</div>
<div class="t xl" style="left:320.3px;top:623.5px">2019</div>
<div class="t xv" style="left:325.6px;top:647.0px">16.500</div>
<div class="t xl" style="left:420.3px;top:623.5px">2020</div>
<div class="t xv" style="left:425.1px;top:647.0px">20.500</div>
<div class="t xl" style="left:519.4px;top:623.5px">2021</div>
<div class="t xv" style="left:525.0px;top:647.0px">23.500</div>
<div class="t xl" style="left:618.4px;top:623.5px">2022</div>
<div class="t xv" style="left:623.0px;top:647.0px">45.500</div>
<div class="t xl" style="left:721.9px;top:623.5px">2023</div>
<div class="t xv" style="left:720.3px;top:647.0px">82.500</div>
<div class="t lg" style="top:61.5px;letter-spacing:0.1px">Bundesverband</div>
<div class="t lg" style="top:77.6px;letter-spacing:-0.4px">Wärmepumpe e.V.</div>
<div class="frame"></div>
</body></html>
